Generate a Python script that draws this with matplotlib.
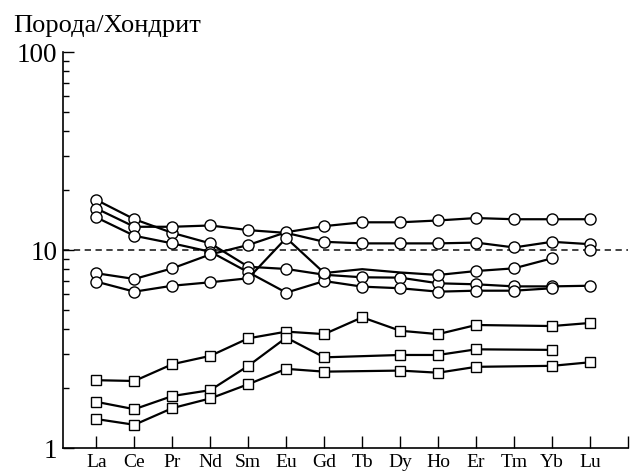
import numpy as np
import matplotlib
matplotlib.use("Agg")
import matplotlib.pyplot as plt
from matplotlib.ticker import LogLocator, NullFormatter, FixedLocator

plt.rcParams['font.family'] = ['Liberation Serif', 'DejaVu Serif']

elements = ["La", "Ce", "Pr", "Nd", "Sm", "Eu", "Gd", "Tb", "Dy", "Ho", "Er", "Tm", "Yb", "Lu"]
nan = np.nan

# circle series (rock / chondrite)
circ_1 = [17.9, 14.3, 12.2, 10.8, 8.23, 8.02, 7.5, 7.28, 7.25, 6.79, 6.71, 6.55, 6.55, 6.6]
circ_2 = [16.2, 13.1, 13.1, 13.3, 12.6, 12.2, 11.0, 10.8, 10.8, 10.8, 10.9, 10.3, 11.0, 10.7]
circ_3 = [14.6, 11.8, 10.8, 9.8, 7.72, 6.09, 6.97, 6.53, 6.41, 6.16, 6.23, 6.23, 6.41, nan]
circ_4 = [7.63, 7.14, 8.08, 9.5, 10.6, 12.3, 13.2, 13.8, 13.8, 14.1, 14.5, 14.3, 14.3, 14.3]
circ_5 = [6.92, 6.16, 6.60, 6.87, 7.20, 11.5, 7.65, 8.0, 7.7, 7.48, 7.83, 8.08, 9.08, nan]
circ_5_marked = [True, True, True, True, True, True, True, False, False, True, True, True, True, False]
circ_lu_single = [nan] * 13 + [10.0]

# square series
sq_1 = [2.20, 2.18, 2.65, 2.92, 3.58, 3.87, 3.76, 4.57, 3.91, 3.76, 4.18, nan, 4.13, 4.28]
sq_2 = [1.71, 1.57, 1.83, 1.96, 2.60, 3.61, 2.87, nan, 2.95, 2.95, 3.15, nan, 3.13, nan]
sq_3 = [1.40, 1.31, 1.59, 1.78, 2.10, 2.51, 2.43, nan, 2.46, 2.40, 2.57, nan, 2.60, 2.71]

y_label = "Порода/Хондрит"
ref_level = 10

fig = plt.figure(figsize=(6.35, 4.75), dpi=100)
ax = fig.add_axes([63/635, 1-448/475, (628-63)/635, (448-52)/475])

x = np.arange(1, len(elements) + 1)

def draw(vals, marker, ms, markevery=None):
    v = np.array(vals, dtype=float)
    m = ~np.isnan(v)
    xs, vs = x[m], v[m]
    me = None
    if markevery is not None:
        me = list(np.array(markevery)[m])
    ax.plot(xs, vs, color='black', lw=1.6, marker=marker, ms=ms,
            mfc='white', mec='black', mew=1.0, markevery=me, zorder=3)

ax.axhline(ref_level, color='#333333', lw=1.3, ls=(0, (3.5, 2.5)), zorder=1)

for s in [circ_1, circ_2, circ_3, circ_4]:
    draw(s, 'o', 8.0)
draw(circ_5, 'o', 8.0, markevery=circ_5_marked)
draw(circ_lu_single, 'o', 8.0)
for s in [sq_1, sq_2, sq_3]:
    draw(s, 's', 7.5)

ax.set_yscale('log')
ax.set_ylim(1, 100)
ax.set_xlim(0.12, 15)

ax.spines['top'].set_visible(False)
ax.spines['right'].set_visible(False)
ax.spines['left'].set_linewidth(1.2)
ax.spines['bottom'].set_linewidth(1.2)

ax.xaxis.set_major_locator(FixedLocator(list(x) + [15]))
ax.set_xticklabels(elements + [""], fontsize=14)
ax.tick_params(axis='x', direction='in', length=9, width=1.0, pad=4)

ax.yaxis.set_major_locator(FixedLocator([1, 10, 100]))
ax.set_yticklabels(["1", "10", "100"], fontsize=19.5)
ax.yaxis.set_minor_locator(LogLocator(base=10, subs=np.arange(2, 10)))
ax.yaxis.set_minor_formatter(NullFormatter())
ax.tick_params(axis='y', which='major', direction='in', length=8, width=1.0, pad=4)
ax.tick_params(axis='y', which='minor', direction='in', length=4.5, width=1.0)

fig.text(13/635, 1-32/475, y_label, fontsize=19, ha='left', va='baseline')

fig.savefig("out.png", dpi=100)
